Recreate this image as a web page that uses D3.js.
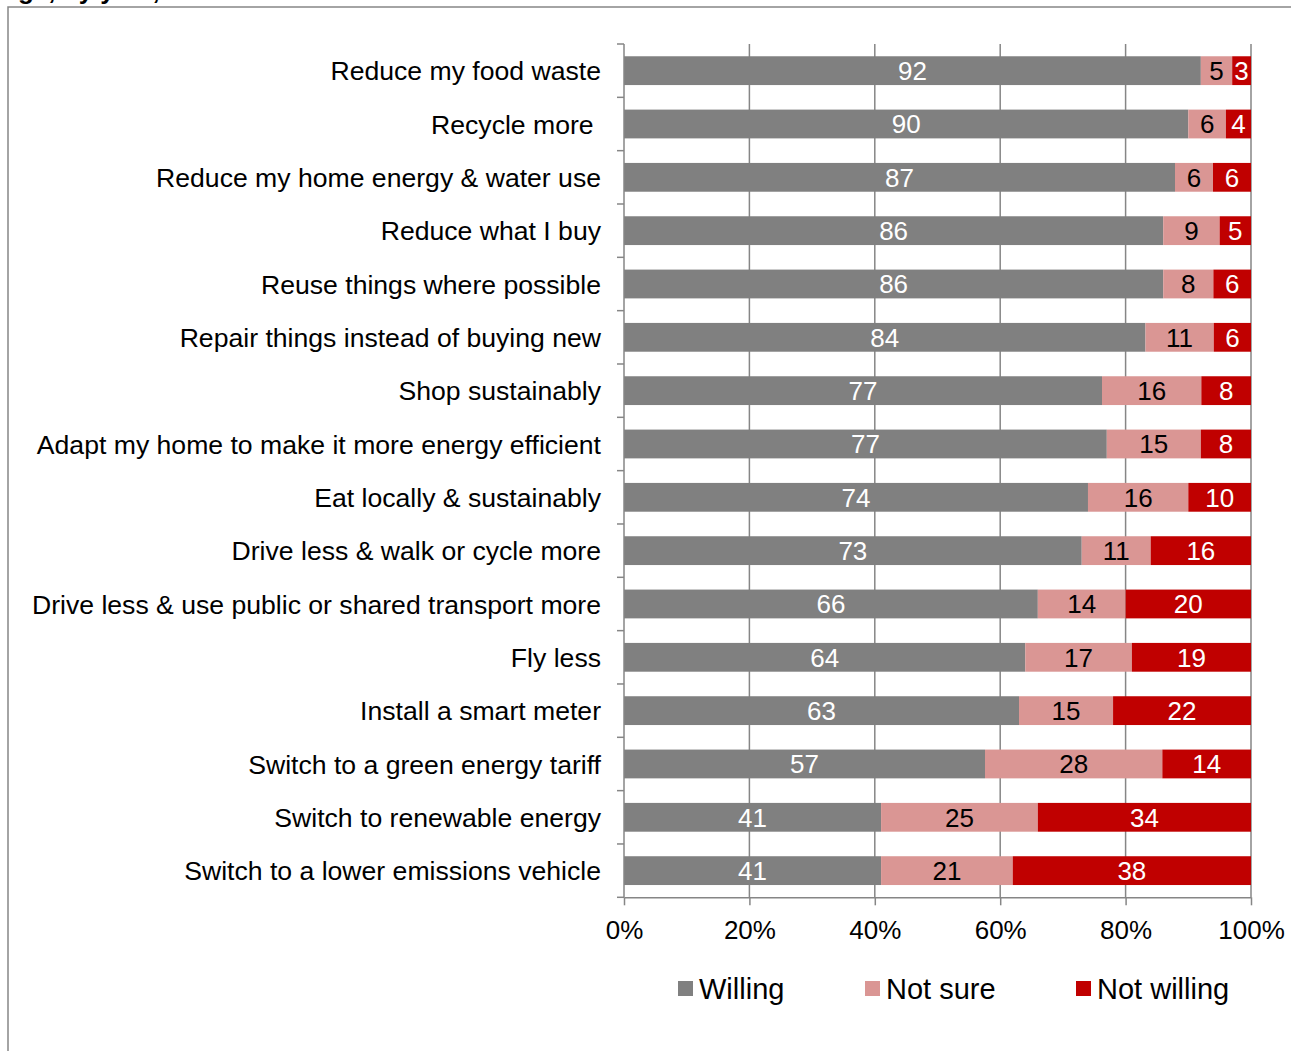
<!DOCTYPE html>
<html>
<head>
<meta charset="utf-8">
<script src="https://cdn.jsdelivr.net/npm/d3@7"></script>
<style>
  body { margin: 0; background: #fff; }
  text { font-family: "Liberation Sans", Arial, sans-serif; }
</style>
</head>
<body>
<div id="chart"></div>
<script>
const categories = [
  "Reduce my food waste",
  "Recycle more ",
  "Reduce my home energy & water use",
  "Reduce what I buy",
  "Reuse things where possible",
  "Repair things instead of buying new",
  "Shop sustainably",
  "Adapt my home to make it more energy efficient",
  "Eat locally & sustainably",
  "Drive less & walk or cycle more",
  "Drive less & use public or shared transport more",
  "Fly less",
  "Install a smart meter",
  "Switch to a green energy tariff",
  "Switch to renewable energy",
  "Switch to a lower emissions vehicle"
];
const willing    = [92, 90, 87, 86, 86, 84, 77, 77, 74, 73, 66, 64, 63, 57, 41, 41];
const notSure    = [5, 6, 6, 9, 8, 11, 16, 15, 16, 11, 14, 17, 15, 28, 25, 21];
const notWilling = [3, 4, 6, 5, 6, 6, 8, 8, 10, 16, 20, 19, 22, 14, 34, 38];
const seriesNames = ["Willing", "Not sure", "Not willing"];
const tickValues = [0, 0.2, 0.4, 0.6, 0.8, 1];

function init() {
  const W = 1291, H = 1051;
  const colors = { "Willing": "#808080", "Not sure": "#da9694", "Not willing": "#c00000" };
  const textColors = { "Willing": "#fff", "Not sure": "#000", "Not willing": "#fff" };
  const gridColor = "#868686";

  const rows = categories.map((c, i) => ({
    cat: c, "Willing": willing[i], "Not sure": notSure[i], "Not willing": notWilling[i]
  }));

  // 100% stacked, so rows summing to 99 or 101 get normalised
  const stacked = d3.stack()
    .keys(seriesNames)
    .offset(d3.stackOffsetExpand)(rows);

  const x = d3.scaleLinear().domain([0, 1]).range([624, 1251]);
  const y = d3.scaleBand()
    .domain(categories)
    .range([44, 897.3])
    .paddingInner(0.46)
    .paddingOuter(0.23);

  const svg = d3.select("#chart").append("svg")
    .attr("width", W)
    .attr("height", H);

  // title sits mostly above the page, only its bottom shows
  svg.append("text")
    .attr("x", 190).attr("y", -1)
    .attr("text-anchor", "end")
    .attr("font-size", 26).attr("font-weight", "bold")
    .text("Willingness to change, by year, %");
  svg.append("rect")
    .attr("x", 8).attr("y", 7)
    .attr("width", W + 20).attr("height", H + 20)
    .attr("fill", "none")
    .attr("stroke", gridColor).attr("stroke-width", 1.5);

  // gridlines
  svg.append("g").selectAll("line")
    .data(tickValues.slice(1))
    .join("line")
    .attr("x1", d => x(d)).attr("x2", d => x(d))
    .attr("y1", y.range()[0]).attr("y2", y.range()[1])
    .attr("stroke", gridColor).attr("stroke-width", 1.5);

  // bars
  const layer = svg.append("g").selectAll("g")
    .data(stacked)
    .join("g")
    .attr("fill", d => colors[d.key]);

  layer.selectAll("rect")
    .data(d => d)
    .join("rect")
    .attr("x", d => x(d[0]))
    .attr("y", d => y(d.data.cat))
    .attr("width", d => x(d[1]) - x(d[0]))
    .attr("height", y.bandwidth());

  layer.selectAll("text")
    .data(d => d.map(p => Object.assign(p, { key: d.key })))
    .join("text")
    .attr("x", d => (x(d[0]) + x(d[1])) / 2)
    .attr("y", d => y(d.data.cat) + y.bandwidth() / 2)
    .attr("dy", "0.36em")
    .attr("text-anchor", "middle")
    .attr("font-size", 26)
    .attr("fill", d => textColors[d.key])
    .text(d => d.data[d.key]);

  // left axis with ticks at category boundaries
  const step = y.step();
  const gap = (step - y.bandwidth()) / 2;
  const bounds = categories.map(c => y(c) - gap).concat([y.range()[1]]);
  const yAxis = svg.append("g");
  yAxis.append("line")
    .attr("x1", x(0)).attr("x2", x(0))
    .attr("y1", y.range()[0]).attr("y2", y.range()[1])
    .attr("stroke", gridColor).attr("stroke-width", 1.5);
  yAxis.selectAll(".tk")
    .data(bounds)
    .join("line")
    .attr("class", "tk")
    .attr("x1", x(0) - 7).attr("x2", x(0))
    .attr("y1", d => d).attr("y2", d => d)
    .attr("stroke", gridColor).attr("stroke-width", 1.5);
  yAxis.selectAll("text")
    .data(categories)
    .join("text")
    .attr("x", 601)
    .attr("y", d => y(d) + y.bandwidth() / 2)
    .attr("dy", "0.36em")
    .attr("text-anchor", "end")
    .attr("font-size", 26.6)
    .style("white-space", "pre")
    .text(d => d);

  // bottom axis
  const xAxis = svg.append("g")
    .attr("transform", "translate(0," + y.range()[1] + ")")
    .call(d3.axisBottom(x)
      .tickValues(tickValues)
      .tickFormat(d3.format(".0%"))
      .tickSize(8)
      .tickSizeOuter(0)
      .tickPadding(15));
  xAxis.select(".domain").attr("stroke", gridColor).attr("stroke-width", 1.5);
  xAxis.selectAll(".tick line").attr("stroke", gridColor).attr("stroke-width", 1.5);
  xAxis.selectAll(".tick text")
    .attr("font-size", 26)
    .attr("font-family", "Liberation Sans, Arial, sans-serif")
    .attr("fill", "#000");

  // legend
  const legendX = [678, 865, 1076];
  const legend = svg.append("g").selectAll("g")
    .data(seriesNames)
    .join("g")
    .attr("transform", (d, i) => "translate(" + legendX[i] + ",981)");
  legend.append("rect")
    .attr("width", 15).attr("height", 15)
    .attr("fill", d => colors[d]);
  legend.append("text")
    .attr("x", 21).attr("y", 7.5)
    .attr("dy", "0.36em")
    .attr("font-size", 29)
    .text(d => d);
}

window.onload = init;
</script>
</body>
</html>
